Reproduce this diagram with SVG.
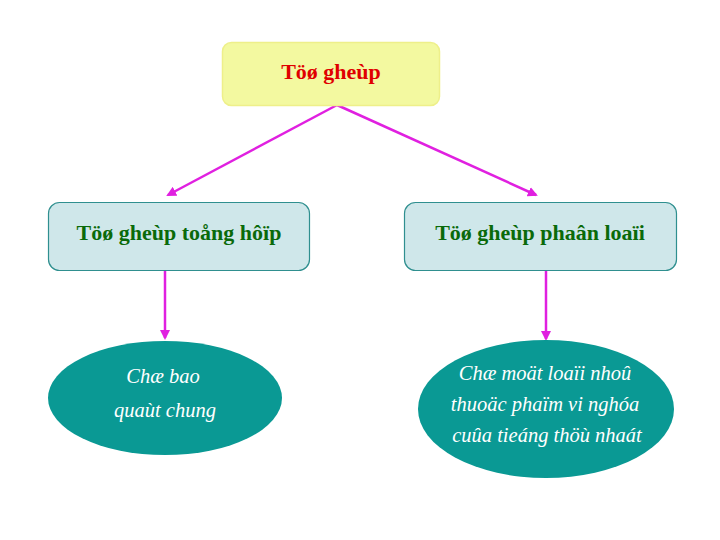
<svg xmlns="http://www.w3.org/2000/svg" width="720" height="540" viewBox="0 0 720 540">
<style>
.top{fill:#f3f9a0;stroke:#eef08a;stroke-width:1.5}
.box{fill:#cfe7ea;stroke:#2f8f8f;stroke-width:1.2}
.ell{fill:#0a9994;stroke:none}
.t{font-family:"Liberation Serif","Times New Roman",serif;text-anchor:middle}
.tr{fill:#e00000;font-weight:bold;font-size:22px}
.tg{fill:#0a6a0a;font-weight:bold;font-size:22px}
.tw{fill:#ffffff;font-style:italic;font-size:20.5px}
.c{stroke:#e020e0;stroke-width:2.5;fill:none;marker-end:url(#ah)}
</style>
<defs>
<marker id="ah" viewBox="0 0 10 10" refX="8" refY="5" markerWidth="4" markerHeight="4" orient="auto" markerUnits="strokeWidth">
<path d="M0,0 L10,5 L0,10 z" fill="#e020e0"/>
</marker>
</defs>
<rect width="720" height="540" fill="#ffffff"/>
<g id="connectors">
<line class="c" x1="337" y1="105" x2="168" y2="195"/>
<line class="c" x1="337" y1="105" x2="536" y2="195"/>
<line class="c" x1="165" y1="271" x2="165" y2="338"/>
<line class="c" x1="546" y1="271" x2="546" y2="339"/>
</g>
<g id="n_root">
<rect class="top" x="222.5" y="42.5" width="217" height="63" rx="9"/>
<text class="t tr" x="331" y="79">Töø gheùp</text>
</g>
<g id="n_left">
<rect class="box" x="48.5" y="202.5" width="261" height="68" rx="11"/>
<text class="t tg" x="179" y="240">Töø gheùp toång hôïp</text>
</g>
<g id="n_right">
<rect class="box" x="404.5" y="202.5" width="272" height="68" rx="11"/>
<text class="t tg" x="540" y="240">Töø gheùp phaân loaïi</text>
</g>
<g id="n_leftoval">
<ellipse class="ell" cx="165" cy="398" rx="117" ry="57"/>
<text class="t tw" x="163" y="383">Chæ bao</text>
<text class="t tw" x="165" y="417">quaùt chung</text>
</g>
<g id="n_rightoval">
<ellipse class="ell" cx="546" cy="409" rx="128" ry="69"/>
<text class="t tw" x="545" y="380">Chæ moät loaïi nhoû</text>
<text class="t tw" x="545" y="411">thuoäc phaïm vi nghóa</text>
<text class="t tw" x="547" y="442">cuûa tieáng thöù nhaát</text>
</g>
</svg>
